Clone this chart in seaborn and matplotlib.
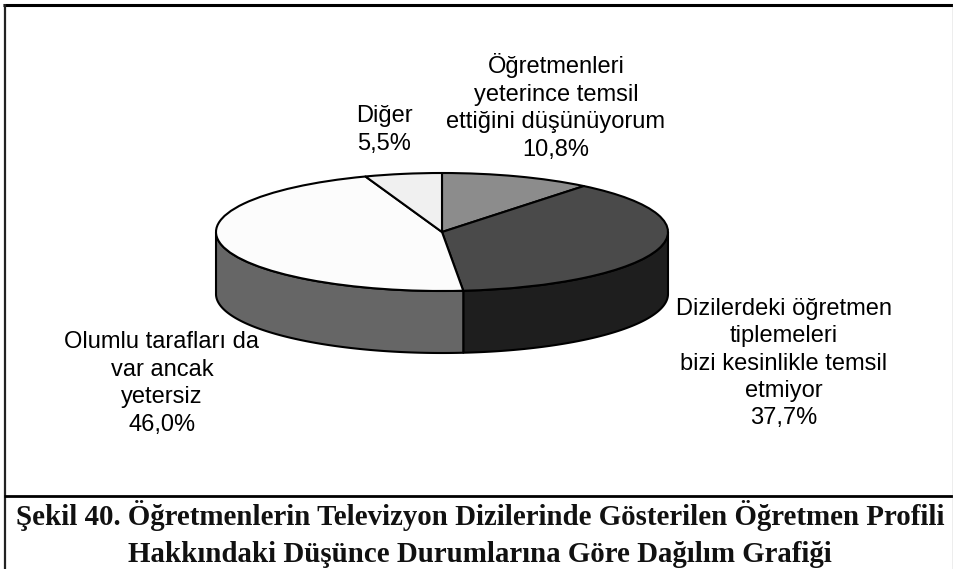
import numpy as np
import matplotlib
matplotlib.use("Agg")
import matplotlib.pyplot as plt
import seaborn as sns

categories = ["Öğretmenleri\nyeterince temsil\nettiğini düşünüyorum",
              "Dizilerdeki öğretmen\ntiplemeleri\nbizi kesinlikle temsil\netmiyor",
              "Olumlu tarafları da\nvar ancak\nyetersiz",
              "Diğer"]
values = [10.8, 37.7, 46.0, 5.5]
top_colors = ["#8c8c8c", "#4a4a4a", "#fcfcfc", "#f0f0f0"]
side_colors = ["#6a6a6a", "#1e1e1e", "#666666", "#b0b0b0"]
label_centers = [(556, 107), (784, 363.5), (162, 383.5), (384, 130)]
caption = ("Şekil 40. Öğretmenlerin Televizyon Dizilerinde Gösterilen Öğretmen Profili\n"
           "Hakkındaki Düşünce Durumlarına Göre Dağılım Grafiği")

W, H = 954, 569
sns.set_theme(style="white")
plt.rcParams["font.family"] = ["Liberation Sans", "DejaVu Sans"]
fig = plt.figure(figsize=(W / 100, H / 100), dpi=100, facecolor="white")

cx, cy, rx, ry, depth = 442, 232, 226, 59, 62
ax = fig.add_axes([(cx - rx) / W, 1 - (cy + ry) / H, 2 * rx / W, 2 * ry / H])
ax.pie(values, colors=top_colors, startangle=90, counterclock=False, radius=1,
       wedgeprops=dict(edgecolor="black", linewidth=1.5, joinstyle="round", zorder=3))
ax.set_aspect("auto")
ax.set_xlim(-1, 1)
ax.set_ylim(-1, 1)
ax.patch.set_visible(False)
for s in ax.spines.values():
    s.set_visible(False)

# side wall of the pie, from the same values
d = depth / ry
cum = np.cumsum([0] + values) / sum(values) * 360
for i in range(len(values)):
    a0, a1 = 90 - cum[i], 90 - cum[i + 1]     # clockwise, math degrees
    t = np.radians(np.linspace(a1, a0, 200))
    x, y = np.cos(t), np.sin(t)
    mask = y <= 0
    if mask.sum() < 2:
        continue
    xs, ys = x[mask], y[mask]
    ax.fill(np.r_[xs, xs[::-1]], np.r_[ys, ys[::-1] - d], facecolor=side_colors[i],
            edgecolor="black", linewidth=1.5, joinstyle="round", clip_on=False, zorder=1)
for w in ax.patches:
    w.set_clip_on(False)

def px(x, y):
    return x / W, 1 - y / H

for i, (name, v) in enumerate(zip(categories, values)):
    lab = f"{name}\n{v:.1f}%".replace(".", ",")
    fig.text(*px(*label_centers[i]), lab, ha="center", va="center", fontsize=17,
             color="black", linespacing=1.32, multialignment="center")

fig.text(*px(480, 534), caption, ha="center", va="center", fontsize=20.8,
         fontweight="bold", family=["Liberation Serif", "DejaVu Serif"],
         color="#111111", linespacing=1.49, multialignment="center")

# frame
for (xa, ya, xb, yb, lw, col) in [(3, 4.7, 954, 4.7, 2.2, "black"), (5, 4, 5, 569, 1.6, "#222222"),
                                  (4, 496, 954, 496, 2.0, "black"), (953, 4, 953, 569, 0.9, "#777777")]:
    fig.add_artist(plt.Line2D([xa / W, xb / W], [1 - ya / H, 1 - yb / H], transform=fig.transFigure,
                              color=col, lw=lw, solid_capstyle="butt"))

fig.savefig("out.png", dpi=100)
